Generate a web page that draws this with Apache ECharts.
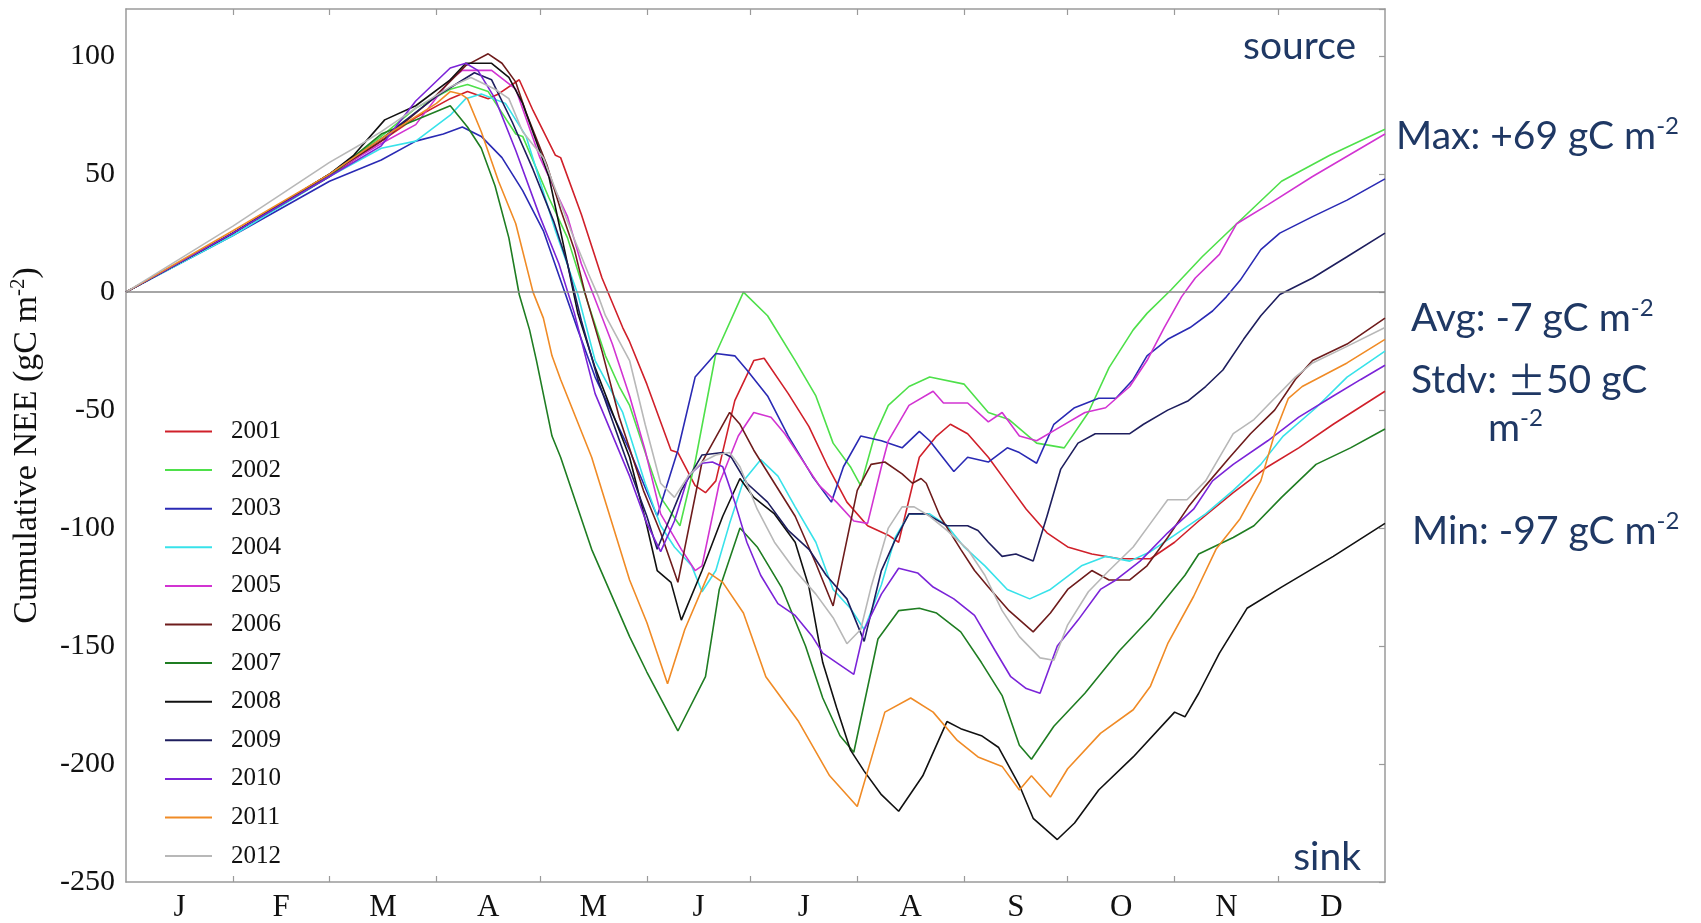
<!DOCTYPE html>
<html><head><meta charset="utf-8">
<script src="https://cdn.jsdelivr.net/npm/echarts@6/dist/echarts.min.js"></script>
<style>html,body{margin:0;padding:0;background:#fff}#c{width:1701px;height:923px}</style>
</head><body><div id="c"></div>
<script>
const years = ['2001','2002','2003','2004','2005','2006','2007','2008','2009','2010','2011','2012'];
const monthLabels = ['J','F','M','A','M','J','J','A','S','O','N','D'];
const monthStarts = [0,31,59,90,120,151,181,212,243,273,304,334,365];

const y2001 = [[0,0],[31,25],[59,49],[74,64],[84,74],[94,82],[99,85],[105,82],[108,84],[114,90],[118,77],[124.5,58],[126,57],[132,33],[138,6],[144,-15],[146,-21],[151,-39],[158,-67],[160,-68],[165,-82],[168,-85],[171,-80],[176.5,-46],[182,-29],[185,-28],[192,-43],[198,-57],[203.5,-74],[209,-89],[215,-99],[221,-103],[224,-106],[230,-70],[235,-61],[239,-56],[244,-60],[250,-70],[256,-82],[261,-92],[267,-102],[273,-108],[280,-111],[288,-113],[297,-113],[304,-106],[311,-97],[321,-85],[331,-74],[340,-66],[350,-56],[365,-42]];
const y2002 = [[0,0],[31,25],[59,50],[74,66],[84,78],[94,86],[99,88],[105,85],[113,67],[115,66],[122.6,40],[128,23],[134,-5],[139,-27],[143,-40],[146,-48],[151,-70],[155,-87],[160.6,-99],[165,-72],[171,-26],[179,0],[186,-10],[194,-29],[200,-44],[205,-64],[210,-74],[213,-82],[217,-61],[221,-48],[227,-40],[233,-36],[243,-39],[250,-51],[256,-54],[264,-64],[272,-66],[279,-51],[285,-32],[292,-16],[296,-9],[303,1],[312,15],[322,29],[335,47],[349,58],[365,69]];
const y2003 = [[0,0],[31,24],[59,47],[74,56],[84,64],[92,67],[97.5,70],[103,66],[109,57],[115,43],[121,26],[126,5],[131,-16],[136,-36],[146,-67],[154,-95],[160,-67],[165,-36],[171,-26],[176.5,-27],[180,-33],[186,-44],[192,-61],[199,-78],[204.5,-89],[208,-74],[213,-61],[219,-63],[225,-66],[230,-59],[233,-63],[240,-76],[244,-70],[250,-72],[255.5,-66],[259,-68],[264,-72.5],[269,-56],[275,-49],[282,-45],[287,-45],[292,-37],[296,-27],[302,-20],[308.5,-15],[315,-8],[319,-2],[323,5],[329,18],[334.5,25],[344,32],[354,39],[365,48]];
const y2004 = [[0,0],[31,24],[59,49],[74,61],[84,64],[94,75],[98.5,82],[103,84],[110,80],[116,66],[124.5,26],[131,-1],[136,-29],[144,-51],[150.5,-81],[155,-99],[159,-108],[164,-116],[167,-127],[171,-118],[175,-98],[179,-80],[184,-71],[189,-78],[194,-91],[200,-106],[205,-126],[210,-134],[214,-143],[219,-124],[223,-104],[227,-94],[233,-94],[238,-99],[243,-108],[249,-116],[255.5,-126],[262,-130],[268,-126],[277,-116],[284,-112],[291,-114],[297,-110],[306,-101],[313,-94],[321,-84],[329,-73],[335.5,-61],[345,-49],[354,-36],[365,-25]];
const y2005 = [[0,0],[31,25],[59,50],[74,63],[84,71],[94,90],[97.5,94],[106,94],[113,86],[120,57],[128,32],[132,12],[136,-3],[141,-22],[146,-44],[150.5,-67],[155,-94],[161,-109],[165,-118],[167,-116],[172,-81],[177.5,-61],[182,-51],[187,-53],[191,-60],[196,-71],[201,-82],[206,-89],[211,-97],[215,-98],[219,-74],[221,-63],[227,-48],[234,-42],[237,-47],[244,-47],[250,-55],[254,-51],[259,-61],[264,-63],[271,-57],[278,-51],[284,-49],[291,-40],[296,-29],[301,-15],[306,-2],[310,6],[317,16],[322,29],[331,37],[344,49],[365,67]];
const y2006 = [[0,0],[31,25],[59,50],[75,65],[89,82],[98.5,96],[105,101],[109,97],[113,89],[116,76],[122,54],[126,35],[130,18],[133,0],[138,-25],[143,-53],[150,-84],[155,-102],[160,-123],[167,-72],[175,-51],[178,-56],[182,-67],[188,-81],[194,-95],[200,-115],[205,-133],[208,-112],[212,-84],[216,-73],[220,-72],[225,-77],[228,-81],[230.5,-79],[232,-81],[236,-95],[242,-109],[246,-118],[250,-125],[256,-135],[263,-144],[268,-136],[273,-126],[280,-118],[285,-122],[291,-122],[296,-116],[302,-104],[308,-91],[313,-82],[320,-70],[326,-60],[333,-50],[339,-37],[344,-29],[354,-22],[365,-11]];
const y2007 = [[0,0],[31,25],[59,49],[74,67],[84,73],[94,79],[99,70],[103,61],[107,45],[111,23],[114,-1],[117,-16],[119,-29],[123.5,-61],[126,-70],[135,-109],[146,-146],[151,-161],[160,-186],[168,-163],[172,-126],[178,-100],[183,-108],[190,-125],[197,-150],[202,-172],[207,-188],[211,-195],[218,-147],[224,-135],[230,-134],[235,-136],[242,-144],[248,-157],[254,-171],[259,-192],[262.5,-198],[269,-184],[278,-170],[288,-152],[297,-138],[307,-120],[311,-111],[321,-104],[327,-99],[335,-87],[345,-73],[355,-66],[365,-58]];
const y2008 = [[0,0],[31,25],[59,50],[66,58],[75,73],[84,79],[94,90],[98.5,97],[102,97],[106,97],[111,91],[115,80],[122.6,49],[128,12],[131,-9],[136,-32],[146,-70],[151,-99],[154,-118],[158,-123],[161,-139],[167,-118],[173,-95],[178,-79],[182,-87],[188,-94],[194,-106],[198,-125],[202,-157],[206,-176],[210,-194],[214,-203],[219,-213],[224,-220],[231,-205],[238,-182],[242,-185],[248,-188],[253,-193],[259,-209],[263,-223],[270,-232],[275,-225],[282,-211],[292,-197],[304,-178],[307,-180],[311,-170],[317,-153],[325,-134],[335,-125],[350,-112],[365,-98]];
const y2009 = [[0,0],[31,25],[59,50],[75,66],[90,83],[101,93],[106,90],[112,72],[118,52],[124,30],[128,12],[132,-12],[137,-38],[146,-75],[151,-95],[154,-109],[161,-84],[167,-69],[173,-68],[175.5,-70],[180,-81],[186,-89],[192,-101],[198,-109],[203,-120],[209,-130],[214,-148],[219,-118],[223,-105],[227,-94],[232,-94],[238,-99],[244,-99],[247,-101],[250,-106],[254,-112],[258,-111],[263,-114],[267,-95],[271,-75],[276,-64],[281,-60],[291,-60],[295,-56],[302,-50],[308,-46],[313,-40],[318,-33],[324,-20],[329,-10],[334.5,-1],[344,6],[354,15],[365,25]];
const y2010 = [[0,0],[31,25],[59,49],[74,62],[84,81],[94,95],[98.5,97],[102,94],[107,82],[113,60],[120,32],[125.5,12],[130,-9],[136,-43],[146,-78],[151,-98],[155,-110],[159,-97],[163,-78],[167,-72.5],[170,-72],[173,-74],[176.5,-89],[180,-106],[184,-120],[189,-132],[194,-137],[199,-146],[202,-153],[206,-157],[211,-162],[214,-143],[219,-128],[224,-117],[229.5,-119],[234,-125],[240,-130],[246,-137],[252,-152],[256.5,-163],[261,-168],[265,-170],[270,-150],[276,-139],[282.5,-126],[287,-122],[294,-114],[302,-102],[309.5,-92],[315,-80],[321,-73],[331,-63],[340,-53],[350,-44],[358,-37],[365,-31]];
const y2011 = [[0,0],[31,26],[59,50],[75,66],[90,80],[94,85],[97,84],[99,82],[103,68],[108,47],[113,29],[118,0],[121,-11],[123.5,-27],[126,-37],[135,-70],[146,-122],[151,-140],[157,-166],[162,-143],[169,-119],[173,-123],[179,-136],[185.5,-163],[195,-182],[204,-205],[212,-218],[220,-178],[227.5,-172],[234,-178],[241,-190],[247,-197],[254,-201],[259,-211],[262.5,-205],[268,-214],[273,-202],[282.5,-187],[292,-177],[297,-167],[302,-149],[309.5,-129],[316,-109],[323,-96],[329,-80],[333,-60],[337,-45],[341,-40],[354,-30],[365,-20]];
const y2012 = [[0,0],[31,28],[59,55],[68.5,63],[74,68],[84,78],[94,87],[100,91],[107,86],[111,82],[115,68],[121,57],[129,26],[134,8],[137,-2],[139,-10],[146,-29],[150.5,-56],[155,-81],[159,-87],[163,-78],[167,-72],[171,-69],[175,-68],[178,-74],[183,-92],[188,-106],[194,-118],[200,-128],[205,-138],[209,-149],[213,-143],[216,-125],[221,-100],[225,-91],[228.5,-91],[233,-95],[238,-101],[244,-109],[249,-120],[254,-135],[259,-146],[265,-155],[269,-156],[273,-141],[279,-127],[285,-118],[292,-108],[297,-98],[302,-88],[307.6,-88],[313,-80],[321,-60],[327,-54],[333,-45],[339,-36],[344,-30],[354,-23],[365,-15]];

const seriesValues = [y2001,y2002,y2003,y2004,y2005,y2006,y2007,y2008,y2009,y2010,y2011,y2012];
const colors = ['#d0202a','#4ee04a','#2a2ab4','#38e2ea','#d234d2','#6e1c1c','#1f7d22','#111111','#1e1e5e','#7b24d8','#f08b26','#b8b8b8'];

const monthMids = monthStarts.slice(0, 12).map((s, i) => (s + monthStarts[i + 1]) / 2);
const serif = 'Liberation Serif';
const annFont = 'Lato';
const annColor = '#1f3864';
const frame = '#9a9a9a';

const chart = echarts.init(document.getElementById('c'));

const series = years.map((y, i) => ({
  name: y, type: 'line', data: seriesValues[i], symbol: 'none', showSymbol: false,
  lineStyle: { width: 1.6, color: colors[i] }, itemStyle: { color: colors[i] },
  animation: false, z: 3
}));
series[0].markLine = {
  silent: true, symbol: 'none', label: { show: false }, animation: false,
  lineStyle: { color: '#888888', width: 1.5, type: 'solid' },
  data: [{ yAxis: 0 }]
};

const supRich = { sup: { fontSize: 24, lineHeight: 34, verticalAlign: 'top', fontFamily: annFont, fill: annColor, color: annColor },
                  pm: { fontSize: 39, fontFamily: 'Noto Sans CJK SC', color: annColor } };
function ann(text, x, y, align) {
  return { type: 'text', x: x, y: y, silent: true, z: 10,
    style: { text: text, fontSize: 39, fontFamily: annFont, fill: annColor, lineHeight: 44,
      textAlign: align || 'left', textVerticalAlign: 'middle', rich: supRich } };
}

chart.setOption({
  animation: false,
  grid: { left: 123, right: 316, top: 9, bottom: 40, containLabel: false },
  legend: {
    orient: 'vertical', left: 160, top: 414, itemWidth: 47, itemHeight: 2, itemGap: 13.6,
    icon: 'rect',
    data: years,
    textStyle: { fontFamily: serif, fontSize: 25, color: '#111', lineHeight: 25, padding: [0, 0, 0, 14] }
  },
  xAxis: [{
    type: 'value', min: 0, max: 365, position: 'bottom',
    axisLine: { onZero: false, lineStyle: { color: frame, width: 1.5 } },
    axisTick: { inside: true, length: 6, customValues: monthStarts.slice(1, 12), lineStyle: { color: frame, width: 1.2 } },
    axisLabel: { customValues: monthMids, margin: 10, fontFamily: serif, fontSize: 31, color: '#111',
      formatter: v => { const k = monthMids.findIndex(m => Math.abs(m - v) < 0.01); return k >= 0 ? monthLabels[k] : ''; } },
    splitLine: { show: false }
  }, {
    type: 'value', min: 0, max: 365, position: 'top',
    axisLine: { onZero: false, lineStyle: { color: frame, width: 1.5 } },
    axisTick: { inside: true, length: 6, customValues: monthStarts.slice(1, 12), lineStyle: { color: frame, width: 1.2 } },
    axisLabel: { show: false }, splitLine: { show: false }
  }],
  yAxis: [{
    type: 'value', min: -250, max: 120, interval: 50, position: 'left',
    axisLine: { show: true, onZero: false, lineStyle: { color: frame, width: 1.5 } },
    axisTick: { show: false },
    axisLabel: { showMaxLabel: false, margin: 11, fontFamily: serif, fontSize: 30, color: '#111' },
    splitLine: { show: false },
    name: 'Cumulative NEE (gC m{sup|-2})', nameLocation: 'middle', nameGap: 80,
    nameTextStyle: { fontFamily: serif, fontSize: 34, color: '#111', lineHeight: 38,
      rich: { sup: { fontFamily: serif, fontSize: 21, lineHeight: 30, verticalAlign: 'top', color: '#111' } } }
  }, {
    type: 'value', min: -250, max: 120, interval: 50, position: 'right',
    axisLine: { show: true, onZero: false, lineStyle: { color: frame, width: 1.5 } },
    axisTick: { show: true, inside: true, length: 6, lineStyle: { color: frame, width: 1.2 } },
    axisLabel: { show: false }, splitLine: { show: false }
  }],
  series: series,
  graphic: [
    ann('source', 1356, 46, 'right'),
    ann('sink', 1361, 857, 'right'),
    ann('Max: +69 gC m{sup|-2}', 1396, 136),
    ann('Avg: -7 gC m{sup|-2}', 1411, 318),
    ann('Stdv: {pm|±}50 gC', 1411, 380),
    ann('m{sup|-2}', 1488, 428),
    ann('Min: -97 gC m{sup|-2}', 1412, 531)
  ]
});
</script></body></html>
